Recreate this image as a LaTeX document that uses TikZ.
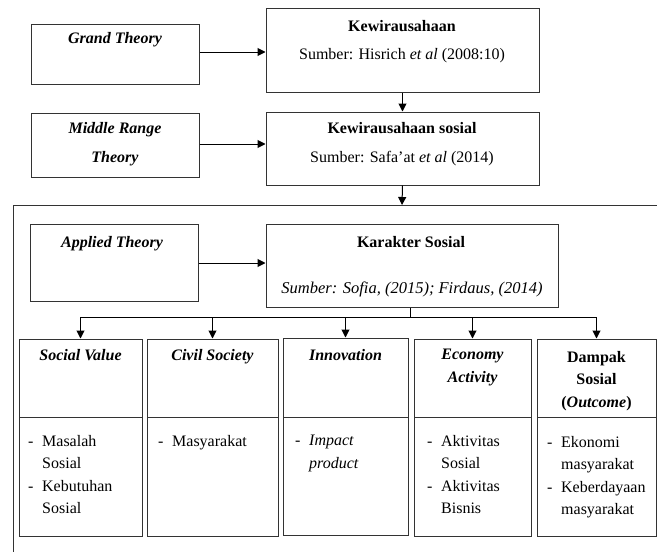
\documentclass[tikz,border=0pt]{standalone}
\usepackage{fontspec}
\setmainfont{Liberation Serif}
\usetikzlibrary{arrows.meta}

\newcommand{\bitem}[1]{\makebox[14pt][l]{-}#1}
\newcommand{\bcont}[1]{\hspace*{14pt}#1}

\tikzset{
  box/.style={draw=black!80, line width=1pt, inner sep=0pt},
  ttl/.style={font=\fontsize{16}{29}\selectfont, align=center, inner sep=0pt, anchor=north},
  dimT/.style={font=\fontsize{16}{22.5}\selectfont, align=center, inner sep=0pt, anchor=north},
  body/.style={font=\fontsize{16}{22.5}\selectfont, align=left, inner sep=0pt, anchor=north west},
  arr/.style={-{Triangle[length=8pt,width=8pt]}, line width=1pt},
}

\begin{document}
\begin{tikzpicture}[x=1pt, y=-1pt]
\useasboundingbox (0,0) rectangle (657,552);

% theory levels
\node [box, minimum width=168, minimum height=60] (grand) at (115,54) {};
\node [ttl] (grandT) at (115,32) {\textbf{\textit{Grand Theory}}};
\node [box, minimum width=168, minimum height=64] (middle) at (115,145) {};
\node [ttl] (middleT) at (115,122) {\textbf{\textit{Middle Range}}\\\textbf{\textit{Theory}}};
\node [box, minimum width=168, minimum height=77] (applied) at (114,262.5) {};
\node [ttl] (appliedT) at (112,236) {\textbf{\textit{Applied Theory}}};

% concepts
\node [box, minimum width=273, minimum height=84] (kew) at (402.5,50) {};
\node [ttl] (kewT) at (402,20) {\textbf{Kewirausahaan}};
\node [ttl] (kewS) at (402,48) {Sumber: Hisrich \textit{et al} (2008:10)};
\node [box, minimum width=273, minimum height=73] (kews) at (402.5,148.5) {};
\node [ttl] (kewsT) at (402,122) {\textbf{Kewirausahaan sosial}};
\node [ttl] (kewsS) at (402,151) {Sumber: Safa'at \textit{et al} (2014)};
\node [box, minimum width=292, minimum height=83] (kar) at (412,265.5) {};
\node [ttl] (karT) at (411,236) {\textbf{Karakter Sosial}};
\node [ttl, font=\fontsize{16.5}{29}\selectfont] (karS) at (412,282) {\textit{Sumber: Sofia, (2015); Firdaus, (2014)}};

% frame
\draw [black!80, line width=1pt] (13,552) -- (13,205) -- (657,205);
\coordinate (ftop) at (402,205);
\coordinate (dist) at (410,317);

% dimensions
\node [box, minimum width=123, minimum height=78] (sv) at (80.5,378) {};
\node [box, minimum width=123, minimum height=119] (svB) at (80.5,476.5) {};
\node [dimT] (svT) at (80.5,349) {\textbf{\textit{Social Value}}};
\node [body] (svL) at (28,435) {\bitem{Masalah}\\\bcont{Sosial}\\\bitem{Kebutuhan}\\\bcont{Sosial}};

\node [box, minimum width=131, minimum height=78] (cs) at (212.5,378) {};
\node [box, minimum width=131, minimum height=119] (csB) at (212.5,476.5) {};
\node [dimT] (csT) at (212.5,349) {\textbf{\textit{Civil Society}}};
\node [body] (csL) at (158,435) {\bitem{Masyarakat}};

\node [box, minimum width=125, minimum height=79] (inn) at (345.5,377.5) {};
\node [box, minimum width=125, minimum height=118] (innB) at (345.5,476) {};
\node [dimT] (innT) at (345.5,349) {\textbf{\textit{Innovation}}};
\node [body] (innL) at (295,435) {\bitem{\textit{Impact}}\\\bcont{\textit{product}}};

\node [box, minimum width=117, minimum height=78] (eco) at (472.5,378) {};
\node [box, minimum width=117, minimum height=119] (ecoB) at (472.5,476.5) {};
\node [dimT] (ecoT) at (472.5,349) {\textbf{\textit{Economy}}\\\textbf{\textit{Activity}}};
\node [body] (ecoL) at (427,435) {\bitem{Aktivitas}\\\bcont{Sosial}\\\bitem{Aktivitas}\\\bcont{Bisnis}};

\node [box, minimum width=119, minimum height=78] (dmp) at (596.5,378) {};
\node [box, minimum width=119, minimum height=119] (dmpB) at (596.5,476.5) {};
\node [dimT] (dmpT) at (596.5,351) {\textbf{Dampak}\\\textbf{Sosial}\\\textbf{(\textit{Outcome})}};
\node [body] (dmpL) at (547,436) {\bitem{Ekonomi}\\\bcont{masyarakat}\\\bitem{Keberdayaan}\\\bcont{masyarakat}};

% arrows
\draw [arr] (grand.east |- 0,52) -- (kew.west |- 0,52);
\draw [arr] (middle.east |- 0,144) -- (kews.west |- 0,144);
\draw [arr] (applied.east |- 0,263) -- (kar.west |- 0,263);
\draw [arr] (kew.south) -- (kews.north);
\draw [arr] (kews.south) -- (ftop);
\draw [line width=1pt] (kar.south -| dist) -- (dist);
\draw [line width=1pt] (sv.north |- dist) -- (dmp.north |- dist);
\draw [arr] (sv.north |- dist) -- (sv.north);
\draw [arr] (cs.north |- dist) -- (cs.north);
\draw [arr] (inn.north |- dist) -- (inn.north);
\draw [arr] (eco.north |- dist) -- (eco.north);
\draw [arr] (dmp.north |- dist) -- (dmp.north);
\end{tikzpicture}
\end{document}
